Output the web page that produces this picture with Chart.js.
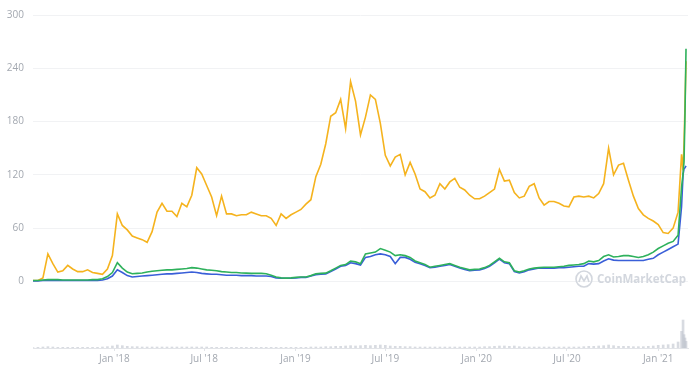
<!DOCTYPE html>
<html>
<head>
<meta charset="utf-8">
<script src="https://cdn.jsdelivr.net/npm/chart.js@4.4.1/dist/chart.umd.min.js"></script>
<style>
html, body { margin: 0; padding: 0; background: #fff; }
</style>
</head>
<body>
<canvas id="price-chart" width="700" height="369"></canvas>
<script>
// sample dates (roughly every 10 days, denser at the end)
const dates = [
    '2017-07-21','2017-07-31','2017-08-10','2017-08-20','2017-08-30','2017-09-09','2017-09-19','2017-09-29','2017-10-09','2017-10-19',
    '2017-10-29','2017-11-08','2017-11-18','2017-11-28','2017-12-08','2017-12-18','2017-12-28','2018-01-07','2018-01-17','2018-01-27',
    '2018-02-06','2018-02-16','2018-02-26','2018-03-08','2018-03-18','2018-03-28','2018-04-07','2018-04-17','2018-04-27','2018-05-07',
    '2018-05-17','2018-05-27','2018-06-06','2018-06-16','2018-06-26','2018-07-06','2018-07-16','2018-07-26','2018-08-05','2018-08-15',
    '2018-08-25','2018-09-04','2018-09-14','2018-09-24','2018-10-04','2018-10-14','2018-10-24','2018-11-03','2018-11-13','2018-11-23',
    '2018-12-03','2018-12-13','2018-12-23','2019-01-02','2019-01-12','2019-01-22','2019-02-01','2019-02-11','2019-02-21','2019-03-03',
    '2019-03-13','2019-03-23','2019-04-02','2019-04-12','2019-04-22','2019-05-02','2019-05-12','2019-05-22','2019-06-01','2019-06-11',
    '2019-06-21','2019-07-01','2019-07-11','2019-07-21','2019-07-31','2019-08-10','2019-08-20','2019-08-30','2019-09-09','2019-09-19',
    '2019-09-29','2019-10-09','2019-10-19','2019-10-29','2019-11-08','2019-11-18','2019-11-28','2019-12-08','2019-12-18','2019-12-28',
    '2020-01-07','2020-01-17','2020-01-27','2020-02-06','2020-02-16','2020-02-26','2020-03-07','2020-03-17','2020-03-27','2020-04-06',
    '2020-04-16','2020-04-26','2020-05-06','2020-05-16','2020-05-26','2020-06-05','2020-06-15','2020-06-25','2020-07-05','2020-07-15',
    '2020-07-25','2020-08-04','2020-08-14','2020-08-24','2020-09-03','2020-09-13','2020-09-23','2020-10-03','2020-10-13','2020-10-23',
    '2020-11-02','2020-11-12','2020-11-22','2020-12-02','2020-12-12','2020-12-22','2021-01-01','2021-01-11','2021-01-21','2021-01-31',
    '2021-02-10','2021-02-17','2021-02-20','2021-02-22','2021-02-24','2021-02-26'
];

const priceBtc = [
    1, 1, 4, 31, 20, 10.5, 12, 18, 14, 11,
    11, 13, 10, 9, 8, 14, 29, 76, 63, 58,
    51, 49, 47, 44, 56, 78, 88, 79, 79, 73,
    88, 84, 97, 128, 121, 108, 95, 74, 96, 76,
    76, 74, 75, 75, 78, 76, 74, 74, 71, 63,
    76, 71, 75, 78, 81, 87, 92, 118, 132, 155,
    186, 190, 205, 172, 225, 203, 165, 185, 210, 205,
    178, 142, 130, 140, 143, 120, 134, 121, 104, 101,
    94, 97, 110, 104, 112, 116, 106, 103, 97, 93,
    93, 96, 100, 104, 126, 113, 114, 100, 94, 96,
    107, 110, 94, 86, 90, 90, 88, 85, 84, 95,
    96, 95, 96, 94, 99, 110, 150, 120, 131, 133,
    114, 96, 82, 75, 71, 68, 64, 55, 54, 60,
    78, 143, 125, 155, 200, 248
];

const priceUsd = [
    1, 1, 1.5, 2, 2, 2, 1.5, 1.5, 1.5, 1.5,
    1.5, 1.5, 2, 2, 3, 5.5, 10, 21, 15, 10.5,
    8.6, 9, 9.5, 10.5, 11.5, 12, 12.5, 13, 13, 13.5,
    14, 14.5, 15.5, 15, 14, 13, 12.5, 12, 11, 10.5,
    10, 10, 9.5, 9.3, 9, 9, 9, 8.6, 7, 5,
    4, 3.7, 4, 4.5, 5, 5, 6.5, 8.5, 9, 9.3,
    12, 15, 18, 19, 23, 22, 20, 31, 32, 33,
    37, 35, 33, 29, 30, 29, 27, 23, 21, 19,
    16, 17, 18, 19, 20, 18, 16, 14.5, 13, 13.5,
    14, 15.5, 18, 22, 26, 22, 21, 12, 10.5, 12,
    14, 15, 15.5, 16, 16, 16, 16.5, 17, 18, 18.5,
    19, 20, 23, 22, 23.5, 28, 30, 27.5, 28, 29,
    29, 28, 27, 28, 30, 33, 37, 40, 43, 45,
    52, 106, 121, 135, 190, 262
];

const marketCap = [
    0.5, 0.5, 1, 1, 1, 1, 1, 1, 1, 1,
    1, 1, 1, 1, 1.5, 3, 6, 13, 10, 6.5,
    5, 5.5, 6, 6.5, 7, 7.5, 8, 8.5, 8.5, 9,
    9.5, 10, 10.5, 10, 9, 8.5, 8, 8, 7.5, 7,
    7, 7, 6.5, 6.5, 6.5, 6, 6, 6, 5.5, 4,
    3.5, 3.5, 3.5, 4, 4.5, 4.5, 6, 7.5, 8, 8.5,
    11, 14, 17, 18, 21, 20, 18.5, 27, 28, 30,
    31, 30, 28, 20, 27, 27, 25, 21.5, 20, 18,
    15.5, 16, 17, 18, 19, 17, 15, 13.5, 12, 12.5,
    13, 14.5, 17, 21, 25, 21, 20, 11, 9.5, 11,
    13, 14, 15, 15, 15, 15, 15.5, 15.5, 16, 16.5,
    17, 17, 20, 19.5, 20, 23, 25.5, 24, 23.5, 23.5,
    23.5, 23.5, 23.5, 23.5, 25, 26, 30, 33, 36, 39,
    42, 84, 120, 127, 128, 130
];

const volume = [
    0.1, 0.2, 0.3, 0.4, 0.3, 0.2, 0.2, 0.2, 0.2, 0.2,
    0.2, 0.2, 0.2, 0.2, 0.3, 0.4, 0.6, 0.9, 0.7, 0.5,
    0.4, 0.4, 0.3, 0.3, 0.3, 0.3, 0.3, 0.3, 0.3, 0.3,
    0.3, 0.3, 0.3, 0.3, 0.3, 0.3, 0.2, 0.2, 0.2, 0.2,
    0.2, 0.2, 0.2, 0.2, 0.2, 0.2, 0.2, 0.2, 0.2, 0.2,
    0.2, 0.2, 0.2, 0.2, 0.2, 0.2, 0.3, 0.3, 0.3, 0.4,
    0.4, 0.5, 0.5, 0.6, 0.7, 0.6, 0.7, 0.8, 0.7, 0.8,
    0.9, 0.8, 0.6, 0.5, 0.5, 0.4, 0.4, 0.3, 0.3, 0.3,
    0.3, 0.3, 0.3, 0.3, 0.3, 0.3, 0.3, 0.3, 0.3, 0.3,
    0.3, 0.4, 0.4, 0.5, 0.6, 0.6, 0.5, 0.6, 0.4, 0.3,
    0.3, 0.3, 0.3, 0.3, 0.3, 0.3, 0.3, 0.3, 0.3, 0.3,
    0.3, 0.4, 0.5, 0.5, 0.6, 0.7, 0.9, 0.7, 0.5, 0.5,
    0.5, 0.4, 0.4, 0.4, 0.5, 0.6, 0.8, 0.9, 1.0, 1.2,
    1.8, 5, 8.4, 4, 3, 2
];

const tickDates = ['2018-01-01','2018-07-01','2019-01-01','2019-07-01','2020-01-01','2020-07-01','2021-01-01'];
const tickLabels = ["Jan '18", "Jul '18", "Jan '19", "Jul '19", "Jan '20", "Jul '20", "Jan '21"];
const priceTicks = [0, 60, 120, 180, 240, 300];

const toDay = (s) => Date.parse(s + 'T00:00:00Z') / 864e5;
const points = (arr) => arr.map((v, i) => ({x: toDay(dates[i]), y: v}));

const labelColor = '#a3a8b0';
const labelFont = {family: '"Open Sans", sans-serif', size: 10};

// faint CoinMarketCap mark in the lower right corner
const watermark = {
    id: 'watermark',
    beforeDatasetsDraw(chart) {
        const ctx = chart.ctx;
        const cx = chart.chartArea.right - 104;
        const cy = chart.chartArea.top + 264;
        ctx.save();
        ctx.strokeStyle = '#d3d7de';
        ctx.fillStyle = '#d3d7de';
        ctx.lineWidth = 1.6;
        ctx.beginPath();
        ctx.arc(cx, cy, 8, 0, Math.PI * 2);
        ctx.stroke();
        ctx.beginPath();
        ctx.moveTo(cx - 5, cy + 3);
        ctx.lineTo(cx - 3, cy - 3);
        ctx.lineTo(cx, cy + 2);
        ctx.lineTo(cx + 3, cy - 3);
        ctx.lineTo(cx + 5, cy + 3);
        ctx.stroke();
        ctx.font = 'bold 11.5px "Open Sans", sans-serif';
        ctx.textBaseline = 'middle';
        ctx.fillText('CoinMarketCap', cx + 13, cy + 1);
        ctx.restore();
    }
};

const data = {
    datasets: [
        {
            label: 'Price (USD)',
            data: points(priceUsd),
            borderColor: '#2eb15c',
            borderWidth: 1.6,
            pointRadius: 0,
            yAxisID: 'y',
        },
        {
            label: 'Market Cap',
            data: points(marketCap),
            borderColor: '#3a5fd8',
            borderWidth: 1.6,
            pointRadius: 0,
            yAxisID: 'y',
        },
        {
            label: 'Price (BTC)',
            data: points(priceBtc),
            borderColor: '#f5b31e',
            borderWidth: 1.6,
            pointRadius: 0,
            yAxisID: 'y',
        },
        {
            type: 'bar',
            label: 'Volume',
            data: points(volume),
            backgroundColor: 'rgba(190,195,205,0.6)',
            barThickness: 2,
            yAxisID: 'yv',
        },
    ]
};

const config = {
    type: 'line',
    data: data,
    options: {
        responsive: false,
        animation: false,
        layout: {
            padding: {top: 14, right: 12, bottom: 0, left: 0}
        },
        plugins: {
            legend: {display: false},
            tooltip: {enabled: false},
        },
        scales: {
            x: {
                type: 'linear',
                offset: false,
                min: toDay('2017-07-21'),
                max: toDay('2021-03-02'),
                afterBuildTicks: (axis) => {
                    axis.ticks = tickDates.map(d => ({value: toDay(d)}));
                },
                afterFit: (axis) => { axis.height = 21; },
                ticks: {
                    callback: (v, i) => tickLabels[i],
                    color: labelColor,
                    font: labelFont,
                    padding: 2,
                    maxRotation: 0,
                    autoSkip: false,
                },
                grid: {offset: false, drawOnChartArea: false, tickLength: 3, color: '#e2e4e8'},
                border: {color: '#e2e4e8'},
            },
            y: {
                min: -75,
                max: 300,
                afterBuildTicks: (axis) => {
                    axis.ticks = priceTicks.map(v => ({value: v}));
                },
                afterFit: (axis) => { axis.width = 33; },
                ticks: {
                    color: labelColor,
                    font: labelFont,
                    padding: 9,
                },
                grid: {color: '#f1f2f4', drawTicks: false},
                border: {display: false},
            },
            yv: {
                display: false,
                min: 0,
                max: 100,
            }
        }
    },
    plugins: [watermark],
};

new Chart(document.querySelector('#price-chart'), config);
</script>
</body>
</html>
